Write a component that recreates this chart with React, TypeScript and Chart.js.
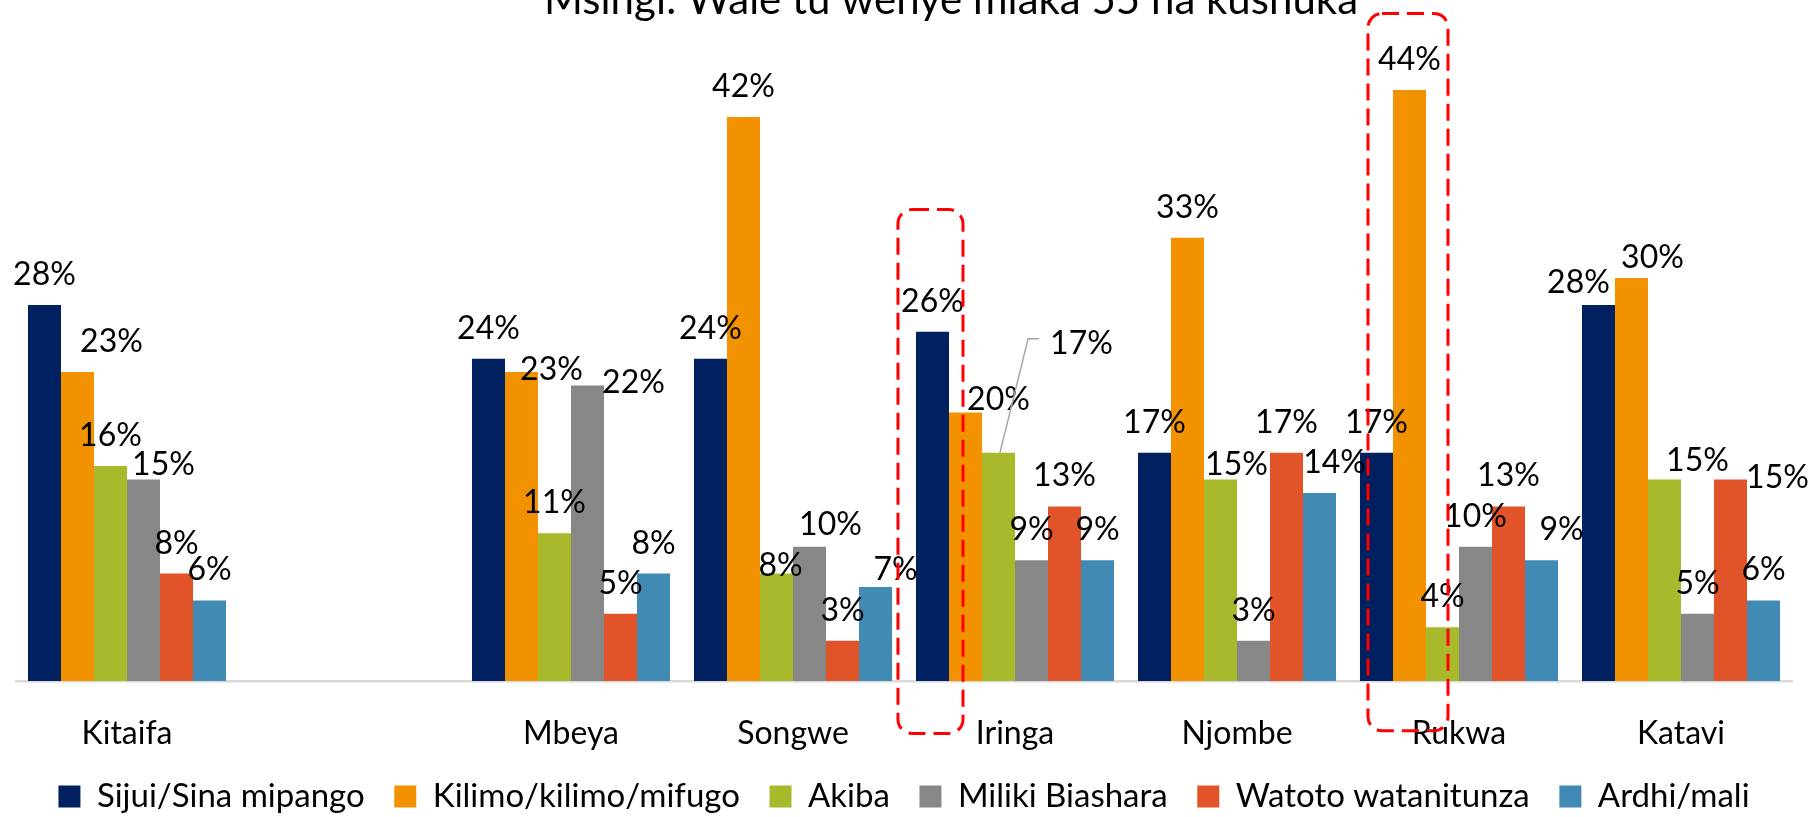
import React, { useEffect, useRef } from 'react';
import { Chart, registerables } from 'chart.js';

Chart.register(...registerables);

// ---------- data ----------
const TITLE = 'Msingi: Wale tu wenye miaka 55 na kushuka';
const CATEGORIES = ['Kitaifa', '', 'Mbeya', 'Songwe', 'Iringa', 'Njombe', 'Rukwa', 'Katavi'];
const SERIES_NAMES = [
  'Sijui/Sina mipango',
  'Kilimo/kilimo/mifugo',
  'Akiba',
  'Miliki Biashara',
  'Watoto watanitunza',
  'Ardhi/mali',
];
const SIJUI = [28, null, 24, 24, 26, 17, 17, 28];
const KILIMO = [23, null, 23, 42, 20, 33, 44, 30];
const AKIBA = [16, null, 11, 8, 17, 15, 4, 15];
const MILIKI = [15, null, 22, 10, 9, 3, 10, 5];
const WATOTO = [8, null, 5, 3, 13, 17, 13, 15];
const ARDHI = [6, null, 8, 7, 9, 14, 9, 6];
const SERIES_VALUES = [SIJUI, KILIMO, AKIBA, MILIKI, WATOTO, ARDHI];
const Y_MAX = 50;

// ---------- styling ----------
const COLORS = ['#002060', '#F39200', '#A8B92B', '#878787', '#E15429', '#418AB3'];
const FONT = 'Lato';
const LEGEND_FONT_SIZE = 33;
const LEGEND_PADDING = 29.6;

// manual nudges of value labels (px, relative to the default "above bar" spot)
const LABEL_NUDGES: Record<string, [number, number]> = {
  'Kitaifa|1': [34, 0],
  'Kitaifa|3': [20, 15],
  'Mbeya|1': [30, 28],
  'Mbeya|3': [46, 27],
  'Songwe|2': [4, 22],
  'Songwe|3': [21, 8],
  'Songwe|5': [20, 13],
  'Iringa|1': [33, 18],
  'Iringa|2': [83, -79],
  'Njombe|2': [16, 15],
  'Njombe|5': [15, 0],
  'Rukwa|5': [20, 0],
  'Katavi|0': [-20, 8],
  'Katavi|1': [21, 10],
  'Katavi|2': [33, 11],
  'Katavi|4': [47, 28],
};
const LEADER_LINES = ['Iringa|2'];

// dashed highlight frames around a bar
const HIGHLIGHTS = [
  { cat: 'Iringa', series: 0, padLeft: 18, padRight: 14, topValue: 35.1, bottomValue: -3.9 },
  { cat: 'Rukwa', series: 1, padLeft: 25, padRight: 22, topValue: 49.7, bottomValue: -3.7 },
];

const valueLabelsPlugin = {
  id: 'valueLabels',
  afterDatasetsDraw(chart: any) {
    const ctx = chart.ctx;
    ctx.save();
    ctx.font = `32px ${FONT}`;
    ctx.fillStyle = '#000';
    ctx.textAlign = 'center';
    ctx.textBaseline = 'alphabetic';
    chart.data.datasets.forEach((ds: any, i: number) => {
      const meta = chart.getDatasetMeta(i);
      meta.data.forEach((bar: any, j: number) => {
        const v = ds.data[j];
        if (v === null || v === undefined) return;
        const key = `${CATEGORIES[j]}|${i}`;
        const [dx, dy] = LABEL_NUDGES[key] || [0, 0];
        const text = `${v}%`;
        const cx = bar.x + dx;
        const by = bar.y - 20 + dy;
        ctx.fillText(text, cx, by);
        if (LEADER_LINES.includes(key)) {
          const w = ctx.measureText(text).width;
          const left = cx - w / 2;
          ctx.save();
          ctx.strokeStyle = '#A6A6A6';
          ctx.lineWidth = 1.5;
          ctx.beginPath();
          ctx.moveTo(left - 11, by - 15);
          ctx.lineTo(left - 22, by - 15);
          ctx.lineTo(bar.x + 1.5, bar.y);
          ctx.stroke();
          ctx.restore();
        }
      });
    });
    ctx.restore();
  },
};

function roundRectPath(ctx: CanvasRenderingContext2D, x: number, y: number, w: number, h: number, r: number) {
  ctx.beginPath();
  ctx.moveTo(x + r, y);
  ctx.lineTo(x + w - r, y);
  ctx.arcTo(x + w, y, x + w, y + r, r);
  ctx.lineTo(x + w, y + h - r);
  ctx.arcTo(x + w, y + h, x + w - r, y + h, r);
  ctx.lineTo(x + r, y + h);
  ctx.arcTo(x, y + h, x, y + h - r, r);
  ctx.lineTo(x, y + r);
  ctx.arcTo(x, y, x + r, y, r);
  ctx.closePath();
}

const decorPlugin = {
  id: 'decor',
  afterDraw(chart: any) {
    const ctx = chart.ctx;
    const yScale = chart.scales.y;
    const area = chart.chartArea;
    // title (cut at top edge, as in the source)
    ctx.save();
    ctx.font = `42px ${FONT}`;
    ctx.fillStyle = '#000';
    ctx.textAlign = 'center';
    ctx.textBaseline = 'alphabetic';
    ctx.fillText(TITLE, (area.left + area.right) / 2 + 47, 14);
    ctx.restore();

    // highlight frames
    HIGHLIGHTS.forEach((h) => {
      const j = CATEGORIES.indexOf(h.cat);
      const bar: any = chart.getDatasetMeta(h.series).data[j];
      if (!bar) return;
      const left = bar.x - bar.width / 2 - h.padLeft;
      const right = bar.x + bar.width / 2 + h.padRight;
      const top = yScale.getPixelForValue(h.topValue);
      const bottom = yScale.getPixelForValue(h.bottomValue);
      ctx.save();
      ctx.strokeStyle = '#FF0000';
      ctx.lineWidth = 3;
      ctx.setLineDash([17, 8]);
      roundRectPath(ctx, left, top, right - left, bottom - top, 14);
      ctx.stroke();
      ctx.restore();
    });
  },
};

export default function App() {
  const canvasRef = useRef<HTMLCanvasElement | null>(null);

  useEffect(() => {
    if (!canvasRef.current) return;
    const datasets = SERIES_NAMES.map((name, i) => ({
      label: name,
      data: SERIES_VALUES[i],
      backgroundColor: COLORS[i],
      borderWidth: 0,
      categoryPercentage: 0.892,
      barPercentage: 1,
    }));
    const legendHeight = LEGEND_FONT_SIZE + LEGEND_PADDING + 10;
    const chart = new Chart(canvasRef.current, {
      type: 'bar',
      data: { labels: CATEGORIES, datasets },
      options: {
        animation: false,
        responsive: true,
        maintainAspectRatio: false,
        events: [],
        layout: { padding: { top: 9.5, bottom: -6, left: 16, right: 20 } },
        plugins: {
          legend: {
            position: 'bottom',
            labels: {
              font: { family: FONT, size: LEGEND_FONT_SIZE },
              color: '#000',
              boxWidth: 22,
              boxHeight: 22,
              padding: LEGEND_PADDING,
            },
          },
          tooltip: { enabled: false },
          title: { display: false },
        },
        scales: {
          x: {
            grid: { display: false, drawTicks: false },
            border: { display: true, color: '#D9D9D9', width: 2.5 },
            ticks: {
              font: { family: FONT, size: 32 },
              color: '#000',
              padding: 33,
              autoSkip: false,
              maxRotation: 0,
            },
            afterFit: (scale: any) => {
              scale.height = 142 - legendHeight;
            },
          },
          y: { display: false, min: 0, max: Y_MAX },
        },
      } as any,
      plugins: [valueLabelsPlugin, decorPlugin],
    });
    return () => chart.destroy();
  }, []);

  return (
    <div style={{ position: 'absolute', left: 0, top: 0, width: 1812, height: 817 }}>
      <canvas ref={canvasRef} />
    </div>
  );
}
